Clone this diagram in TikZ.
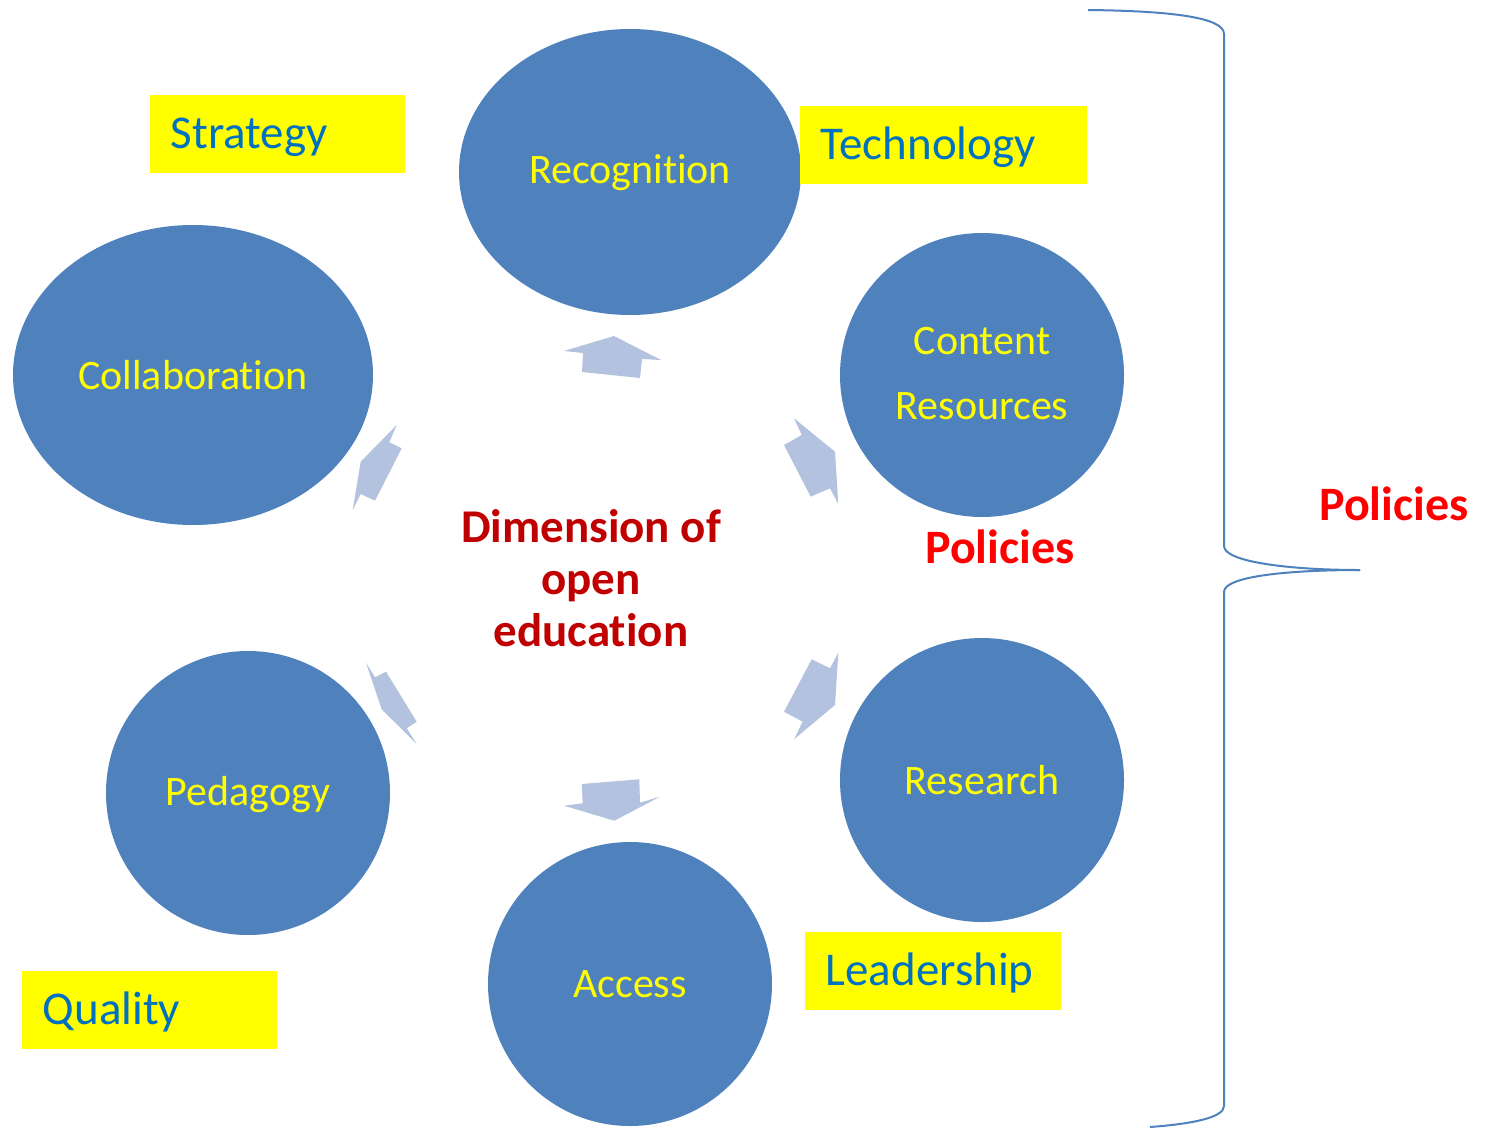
\documentclass[tikz,border=0pt]{standalone}
\usepackage{fontspec}
\setmainfont{Carlito}[Ligatures=NoCommon]
\definecolor{cblue}{HTML}{4F81BD}
\definecolor{arrowc}{HTML}{B3C2DE}
\definecolor{tblue}{HTML}{0070C0}
\definecolor{dred}{HTML}{C00000}
\definecolor{yel}{HTML}{FFFF00}
\begin{document}
\begin{tikzpicture}[x=1pt,y=-1pt,
  ctext/.style={inner sep=0, text=yel, font=\fontsize{42}{65}\selectfont, align=center},
  ybox/.style={anchor=north west, fill=yel, text=tblue, font=\fontsize{47}{56}\selectfont, inner xsep=20.5pt, inner ysep=0pt, align=left, minimum height=78pt, text height=34pt, text depth=6pt},
  pol/.style={text=red, font=\bfseries\fontsize{48}{52}\selectfont, inner sep=0},
  segarrow/.style={fill=arrowc, draw=none},
  bracec/.style={draw=cblue, line width=2pt}
]
\useasboundingbox (0,0) rectangle (1485,1127);
% circles
\fill[cblue] (630,172) ellipse [x radius=171, y radius=143];
\node[ctext] (recog) at (630,173) {Recognition};
\fill[cblue] (193,375) ellipse [x radius=180, y radius=150];
\node[ctext] (collab) at (193,375) {Collaboration};
\fill[cblue] (982,375) circle [radius=142];
\node[ctext] (content) at (982,374) {Content\\Resources};
\fill[cblue] (982,780) circle [radius=142];
\node[ctext] (research) at (982,780) {Research};
\fill[cblue] (248,793) circle [radius=142];
\node[ctext] (pedag) at (248,795) {Pedagogy};
\fill[cblue] (630,984) circle [radius=142];
\node[ctext] (access) at (630,984) {Access};
% arrows between circles
\fill[segarrow] (614,336) -- (661,360) -- (642,359) -- (640,378) -- (582,372) -- (583,353) -- (564,351) -- cycle;
\fill[segarrow] (396.7,425) -- (389.3,442.3) -- (401.7,448.3) -- (375,500.7) -- (360.7,494) -- (352.7,510) -- (360.7,461.7) -- cycle;
\fill[segarrow] (794,418.3) -- (801.7,435) -- (784,445) -- (810.7,496.7) -- (830,488.3) -- (838.3,504) -- (835,451.7) -- cycle;
\fill[segarrow] (366,662.7) -- (375,677.3) -- (386,671.7) -- (416.7,721.7) -- (406.7,728.3) -- (416.7,744) -- (381.7,709.3) -- cycle;
\fill[segarrow] (838.3,652.7) -- (830,668.3) -- (811.7,659.3) -- (784,711.7) -- (802.7,721.7) -- (794,739.3) -- (835,705) -- cycle;
\fill[segarrow] (581.7,784) -- (639.3,779.3) -- (640,802.7) -- (660,796.7) -- (614.3,820.7) -- (564,805.7) -- (582.7,803.3) -- cycle;
% yellow label boxes
\node[ybox, text width=214pt] (strategy) at (150,95) {Strategy};
\node[ybox, text width=246pt] (techno) at (800,106) {Technology};
\node[ybox, text width=215pt] (leader) at (805,932) {Leadership};
\node[ybox, text width=214pt] (quality) at (22,971) {Quality};
% center text
\node[text=dred, font=\bfseries\fontsize{47}{52}\selectfont, align=center, inner sep=0] (dim) at (591,578) {Dimension of\\open\\education};
% policies
\node[pol] (pol1) at (1000,547) {Policies};
\node[pol] (pol2) at (1394,504) {Policies};
% brace
\coordinate (btop) at (1088,10);
\coordinate (btip) at (1360,570);
\coordinate (bbot) at (1150,1127);
\draw[bracec] (btop) .. controls (1175,11) and (1224,18) .. (1224,34) -- (1224,546) .. controls (1224,562) and (1290,570) .. (btip);
\draw[bracec] (btip) .. controls (1290,570) and (1224,576) .. (1224,592) -- (1224,1106) .. controls (1224,1118) and (1190,1124) .. (bbot);
\end{tikzpicture}
\end{document}
